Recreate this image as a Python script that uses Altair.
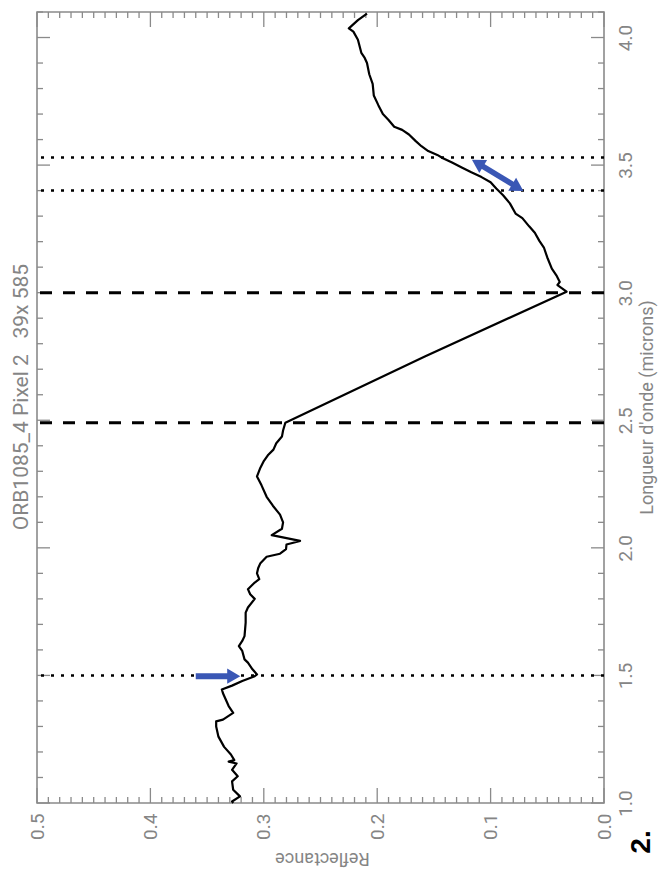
import altair as alt
import pandas as pd
import numpy as np

# ---------------- data ----------------
wavelength = [
    1.000, 1.006, 1.026, 1.052, 1.085, 1.105, 1.130, 1.155, 1.162, 1.168,
    1.190, 1.220, 1.260, 1.300, 1.320, 1.327, 1.353, 1.380, 1.430, 1.445,
    1.460, 1.478, 1.497, 1.504, 1.524, 1.550, 1.563, 1.596, 1.615, 1.635,
    1.654, 1.707, 1.746, 1.766, 1.800, 1.818, 1.838, 1.864, 1.877, 1.900,
    1.920, 1.940, 1.965, 1.977, 1.995, 2.013, 2.027, 2.050, 2.075, 2.100,
    2.130, 2.165, 2.200, 2.245, 2.280, 2.314, 2.340, 2.365, 2.385, 2.410,
    2.436, 2.460, 2.490, 2.750, 3.004, 3.030, 3.042, 3.068, 3.094, 3.138,
    3.177, 3.203, 3.235, 3.260, 3.292, 3.310, 3.350, 3.382, 3.408, 3.433,
    3.453, 3.472, 3.490, 3.510, 3.527, 3.540, 3.555, 3.574, 3.594, 3.620,
    3.638, 3.650, 3.677, 3.700, 3.735, 3.773, 3.818, 3.856, 3.900, 3.920,
    3.940, 3.991, 4.023, 4.036, 4.068, 4.094,
]
reflectance = [
    0.327, 0.328, 0.321, 0.327, 0.328, 0.323, 0.328, 0.324, 0.331, 0.326,
    0.329, 0.335, 0.340, 0.342, 0.342, 0.336, 0.327, 0.331, 0.336, 0.337,
    0.328, 0.319, 0.308, 0.306, 0.310, 0.314, 0.317, 0.319, 0.322, 0.319,
    0.317, 0.316, 0.316, 0.314, 0.308, 0.312, 0.314, 0.308, 0.304, 0.306,
    0.305, 0.303, 0.2975, 0.2857, 0.2804, 0.280, 0.268, 0.293, 0.284, 0.283,
    0.2857, 0.292, 0.2975, 0.302, 0.306, 0.303, 0.300, 0.296, 0.2915, 0.289,
    0.284, 0.283, 0.281, 0.158, 0.033, 0.041, 0.039, 0.042, 0.046, 0.050,
    0.053, 0.057, 0.061, 0.066, 0.072, 0.078, 0.083, 0.089, 0.095, 0.100,
    0.108, 0.117, 0.125, 0.134, 0.142, 0.147, 0.155, 0.161, 0.166, 0.172,
    0.178, 0.185, 0.190, 0.195, 0.199, 0.203, 0.204, 0.207, 0.209, 0.211,
    0.214, 0.217, 0.221, 0.225, 0.217, 0.209,
]

dotted_lines = [1.50, 3.40, 3.53]
dashed_lines = [2.49, 3.00]

# single arrow at 1.5 micron (reflectance start -> head)
arrow1_r_start = [0.360]
arrow1_r_head = [0.3265]
arrow1_w = [1.497]
# double arrow between the two dotted lines
arrow2_r = [0.1115]
arrow2_w = [3.508]
arrow2_r2 = [0.076]
arrow2_w2 = [3.412]

refl_labels = [0.0, 0.1, 0.2, 0.3, 0.4, 0.5]
wl_labels = [1.0, 1.5, 2.0, 2.5, 3.0, 3.5, 4.0]

title_text = "ORB1085_4 Pixel 2\u00a0\u00a0 39x 585"
x_title = "Reflectance"
y_title = "Longueur d'onde (microns)"
panel_label = "2."

# ---------------- layout ----------------
W, H = 567, 791
GREY = "#8a8a8a"
LABEL_GREY = "#858585"
FONT = "Roboto"
BLUE = "#3a57b5"

xscale = alt.Scale(domain=[0.0, 0.5], reverse=True, nice=False, zero=False)
yscale = alt.Scale(domain=[1.0, 4.1], nice=False, zero=False)

xaxis = alt.Axis(
    orient="bottom", values=refl_labels, format=".1f", ticks=False, domain=False,
    grid=False, labelAngle=270, labelAlign="right", labelBaseline="middle",
    labelPadding=10, labelFontSize=19, labelColor=LABEL_GREY, labelFont=FONT,
    labelOverlap=False, labelFlush=False,
    title=x_title, titleAngle=180, titleX=285, titleY=54, titleAlign="center",
    titleBaseline="middle", titleFontSize=18, titleFont=FONT,
    titleFontWeight="normal", titleColor=LABEL_GREY,
)
yaxis = alt.Axis(
    orient="right", values=wl_labels, format=".1f", ticks=False, domain=False,
    grid=False, labelAngle=270, labelAlign="center", labelBaseline="top",
    labelPadding=12, labelFontSize=19, labelColor=LABEL_GREY, labelFont=FONT,
    labelOverlap=False, labelFlush=False,
    title=y_title, titleAngle=270, titleX=43, titleY=395, titleAlign="center",
    titleBaseline="middle", titleFontSize=18, titleFont=FONT,
    titleFontWeight="normal", titleColor=LABEL_GREY,
)

X = alt.X("r:Q", scale=xscale, axis=xaxis)
Y = alt.Y("w:Q", scale=yscale, axis=yaxis)

spec_df = pd.DataFrame({"w": wavelength, "r": reflectance})

spectrum = alt.Chart(spec_df).mark_line(
    color="black", strokeWidth=2.2, strokeJoin="round"
).encode(x=X, y=Y, order="w:Q")

dotted = alt.Chart(pd.DataFrame({"w": dotted_lines})).mark_rule(
    color="black", strokeWidth=2.5, strokeDash=[3, 7]
).encode(y=Y)

dashed = alt.Chart(pd.DataFrame({"w": dashed_lines})).mark_rule(
    color="black", strokeWidth=3, strokeDash=[12, 11]
).encode(y=Y)

# tick marks on all four sides (inward)
refl_all = np.round(np.arange(0, 51) / 100, 2)
refl_major = [v for v in refl_all if round(v * 10, 6) == round(v * 10)]
refl_minor = [v for v in refl_all if v not in refl_major]
wl_all = np.round(np.arange(10, 42) / 10, 1)
wl_major = [v for v in wl_all if round(v * 2, 6) == round(v * 2)]
wl_minor = [v for v in wl_all if v not in wl_major]

tick_layers = []
for vals, ln in [(refl_major, 15), (refl_minor, 6)]:
    d = pd.DataFrame({"r": vals})
    tick_layers.append(alt.Chart(d).mark_rule(color=GREY, strokeWidth=1.3).encode(
        x=X, y=alt.value(H), y2=alt.value(H - ln)))
    tick_layers.append(alt.Chart(d).mark_rule(color=GREY, strokeWidth=1.3).encode(
        x=X, y=alt.value(0), y2=alt.value(ln)))
for vals, ln in [(wl_major, 13), (wl_minor, 6)]:
    d = pd.DataFrame({"w": vals})
    tick_layers.append(alt.Chart(d).mark_rule(color=GREY, strokeWidth=1.3).encode(
        y=Y, x=alt.value(0), x2=alt.value(ln)))
    tick_layers.append(alt.Chart(d).mark_rule(color=GREY, strokeWidth=1.3).encode(
        y=Y, x=alt.value(W), x2=alt.value(W - ln)))

# arrows
a1 = pd.DataFrame({"r": arrow1_r_start, "r2": arrow1_r_head, "w": arrow1_w})
arrow1_line = alt.Chart(a1).mark_rule(color=BLUE, strokeWidth=6).encode(
    x=X, x2=alt.X2("r2:Q"), y=Y)
arrow1_head = alt.Chart(pd.DataFrame({"r": arrow1_r_head, "w": arrow1_w})).mark_point(
    shape="triangle-right", filled=True, color=BLUE, size=230, opacity=1
).encode(x=X, y=Y)

a2 = pd.DataFrame({"r": arrow2_r, "w": arrow2_w, "r2": arrow2_r2, "w2": arrow2_w2})
arrow2_line = alt.Chart(a2).mark_rule(color=BLUE, strokeWidth=5.5).encode(
    x=X, x2=alt.X2("r2:Q"), y=Y, y2=alt.Y2("w2:Q"))
arrow2_head_a = alt.Chart(pd.DataFrame({"r": arrow2_r2, "w": arrow2_w2})).mark_point(
    shape="triangle-right", filled=True, color=BLUE, size=230, opacity=1, angle=31
).encode(x=X, y=Y)
arrow2_head_b = alt.Chart(pd.DataFrame({"r": arrow2_r, "w": arrow2_w})).mark_point(
    shape="triangle-left", filled=True, color=BLUE, size=230, opacity=1, angle=31
).encode(x=X, y=Y)

title_mark = alt.Chart(pd.DataFrame({"t": [title_text]})).mark_text(
    angle=270, align="center", baseline="middle", fontSize=21, font=FONT,
    color=LABEL_GREY
).encode(text="t:N", x=alt.value(-15), y=alt.value(385))

panel_mark = alt.Chart(pd.DataFrame({"t": [panel_label]})).mark_text(
    angle=270, align="center", baseline="middle", fontSize=28,
    fontWeight="bold", font="Liberation Sans", color="black"
).encode(text="t:N", x=alt.value(605), y=alt.value(830))

chart = alt.layer(
    *tick_layers, dotted, dashed, spectrum,
    arrow1_line, arrow1_head, arrow2_line, arrow2_head_a, arrow2_head_b,
    title_mark, panel_mark,
).properties(
    width=W, height=H,
    autosize=alt.AutoSizeParams(type="none"),
    padding={"left": 29, "top": 4, "right": 56, "bottom": 66},
).configure_view(
    stroke=GREY, strokeWidth=1.6
)

chart.save("out.html", embed_options={"renderer": "svg", "actions": False})
